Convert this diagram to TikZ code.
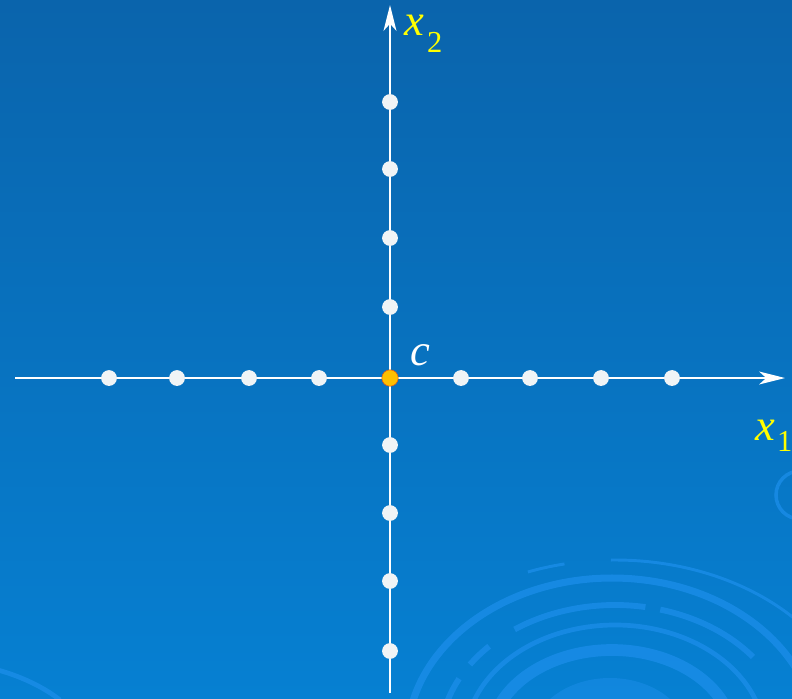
\documentclass[tikz,border=0pt]{standalone}
\usepackage{fontspec}
\setmainfont{Liberation Serif}
\usetikzlibrary{arrows.meta}
\definecolor{bgtop}{RGB}{10,100,172}
\definecolor{bgbot}{RGB}{6,128,210}
\definecolor{ringc}{RGB}{28,142,234}
\definecolor{dotw}{RGB}{240,244,246}
\definecolor{labc}{RGB}{255,255,0}
\definecolor{orng}{RGB}{255,192,0}
\definecolor{orngedge}{RGB}{225,90,20}
\begin{document}
\begin{tikzpicture}[x=0.03cm,y=-0.03cm,
  axis/.style={white,line width=2.2pt,-{Stealth[length=22pt,width=11pt,inset=6pt]}},
  pt/.style={circle,fill=dotw,inner sep=0pt,minimum size=13.5pt},
  ptc/.style={circle,fill=orng,draw=orngedge,line width=0.5pt,inner sep=0pt,minimum size=14pt},
  lbl/.style={inner sep=0pt,anchor=base west,text=labc,font=\fontsize{38}{42}\selectfont\itshape},
  sub/.style={inner sep=0pt,anchor=base west,text=labc,font=\fontsize{26}{30}\selectfont},
  rg/.style={draw=ringc,opacity=0.75}]
% background
\useasboundingbox (0,0) rectangle (792,698);
\shade[top color=bgtop,bottom color=bgbot] (0cm,0cm) rectangle (23.76cm,-20.94cm);
% decorative rings
\begin{scope}
\clip (0,0) rectangle (792,698);
\draw[rg,line width=2.5pt] (615,740) ++(249:243 and 180) arc[start angle=249,end angle=258,x radius=243,y radius=180];
\draw[rg,line width=2.5pt] (615,740) ++(269:243 and 180) arc[start angle=269,end angle=350,x radius=243,y radius=180];
\draw[rg,line width=6pt] (612,740) ++(180:205 and 162) arc[start angle=180,end angle=360,x radius=205,y radius=162];
\draw[rg,line width=5pt] (615,740) ++(235:175 and 135) arc[start angle=235,end angle=280,x radius=175,y radius=135];
\draw[rg,line width=5pt] (615,740) ++(285:175 and 135) arc[start angle=285,end angle=322,x radius=175,y radius=135];
\draw[rg,line width=5pt] (615,740) ++(214:175 and 135) arc[start angle=214,end angle=224,x radius=175,y radius=135];
\draw[rg,line width=5pt] (615,740) ++(175:175 and 135) arc[start angle=175,end angle=207,x radius=175,y radius=135];
\draw[rg,line width=4pt] (615,740) ++(170:150 and 115) arc[start angle=170,end angle=345,x radius=150,y radius=115];
\draw[rg,line width=10pt] (612,740) ellipse[x radius=122,y radius=90];
\fill[ringc,opacity=0.5] (610,740) ellipse[x radius=80,y radius=62];
\draw[rg,line width=3pt] (800,495) circle[radius=24];
\draw[rg,line width=4pt] (-10,668) .. controls (20,675) and (45,688) .. (60,700);
\end{scope}
% axes
\coordinate (hs) at (15,378);
\coordinate (he) at (785,378);
\coordinate (vs) at (390,693);
\coordinate (ve) at (390,5);
\draw[axis] (hs) -- (he);
\draw[axis] (vs) -- (ve);
% points on x1 axis
\node[pt] (h1) at (109,378) {};
\node[pt] (h2) at (177,378) {};
\node[pt] (h3) at (249,378) {};
\node[pt] (h4) at (319,378) {};
\node[pt] (h6) at (461,378) {};
\node[pt] (h7) at (530,378) {};
\node[pt] (h8) at (601,378) {};
\node[pt] (h9) at (672,378) {};
% points on x2 axis
\node[pt] (v1) at (390,102) {};
\node[pt] (v2) at (390,169) {};
\node[pt] (v3) at (390,238) {};
\node[pt] (v4) at (390,307) {};
\node[pt] (v6) at (390,445) {};
\node[pt] (v7) at (390,513) {};
\node[pt] (v8) at (390,581) {};
\node[pt] (v9) at (390,651) {};
% centre
\node[ptc] (c) at (390,378) {};
% labels
\node[lbl] (x2) at (404,35) {x};
\node[sub] (x2s) at (427,52) {2};
\node[lbl] (x1) at (755,440) {x};
\node[sub] (x1s) at (777,451) {1};
\node[lbl,text=white] (cl) at (410,365) {c};
\end{tikzpicture}
\end{document}
